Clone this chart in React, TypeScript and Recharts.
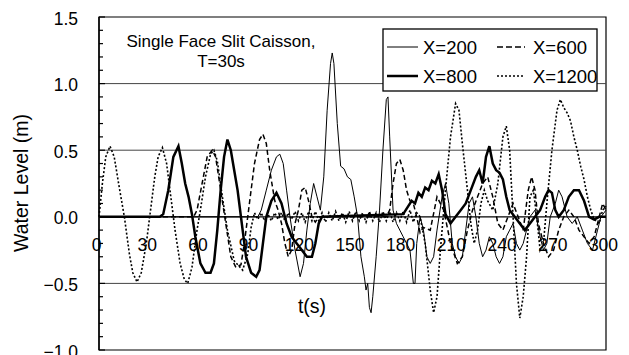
import React from 'react';
import { LineChart, Line, XAxis, YAxis, ReferenceLine, ReferenceArea } from 'recharts';

// ---- chart data (t in seconds, water level in metres) ----
const X_TICKS = [0, 30, 60, 90, 120, 150, 180, 210, 240, 270, 300];
const Y_TICKS = [
  -1.0, -0.9, -0.8, -0.7, -0.6, -0.5, -0.4, -0.3, -0.2, -0.1, 0.0,
  0.1, 0.2, 0.3, 0.4, 0.5, 0.6, 0.7, 0.8, 0.9, 1.0, 1.1, 1.2, 1.3, 1.4, 1.5,
];
const GRID_LEVELS = [1.0, 0.5, -0.5];

const x200: [number, number][] = [
  [0, 0], [94, 0], [96, 0.05], [99, 0.2], [102, 0.35], [105, 0.45], [107, 0.47], [109, 0.4],
  [111, 0.2], [113, 0.0], [116, -0.25], [119, -0.45], [121, -0.35], [123, -0.1], [125, 0.1],
  [127, 0.25], [129, 0.15], [131, 0.05], [133, 0.3], [135, 0.8], [137, 1.15], [138, 1.23],
  [139, 1.15], [141, 0.7], [143, 0.38], [145, 0.36], [147, 0.3], [149, 0.28], [151, 0.15],
  [153, 0.0], [155, -0.3], [157, -0.45], [158, -0.55], [159, -0.5], [160, -0.68], [161, -0.72],
  [162, -0.6], [164, -0.3], [166, 0.05], [168, 0.5], [170, 0.88], [171, 0.9], [172, 0.6],
  [174, 0.05], [176, -0.05], [178, -0.1], [180, -0.15], [182, -0.2], [184, -0.25], [186, -0.5],
  [187, -0.5], [188, -0.2], [190, 0.0], [192, -0.1], [194, -0.3], [196, -0.35], [198, -0.3],
  [200, -0.1], [203, 0.15], [205, 0.25], [207, 0.1], [209, -0.2], [211, -0.3], [213, -0.35],
  [215, -0.3], [217, -0.1], [219, 0.1], [221, 0.15], [223, 0.0], [225, -0.2], [227, -0.3],
  [229, -0.25], [231, -0.15], [233, -0.2], [235, -0.3], [237, -0.35], [239, -0.3], [241, -0.15],
  [243, -0.1], [245, -0.05], [247, -0.2], [249, -0.25], [251, -0.2], [253, -0.1], [255, 0.0],
  [258, 0.05], [261, -0.15], [263, -0.25], [265, -0.2], [267, 0.0], [270, 0.1], [272, 0.2],
  [274, 0.15], [277, 0.0], [280, -0.05], [283, 0.0], [286, -0.1], [289, -0.2], [292, -0.25],
  [295, -0.1], [297, 0.0], [300, 0.05],
];

const x600: [number, number][] = [
  [0, 0], [56, 0], [58, 0.05], [61, 0.25], [64, 0.45], [67, 0.5], [69, 0.45], [72, 0.2],
  [75, -0.05], [78, -0.3], [81, -0.38], [84, -0.36], [86, -0.2], [89, 0.1], [92, 0.4],
  [95, 0.58], [97, 0.62], [99, 0.55], [101, 0.35], [104, 0.12], [106, 0.05], [108, -0.05],
  [110, -0.2], [112, -0.3], [114, -0.25], [116, -0.05], [118, 0.05], [120, 0.2], [122, 0.22],
  [124, 0.12], [126, 0.0], [128, -0.04], [130, 0.0], [170, 0.0], [172, 0.05], [174, 0.25],
  [176, 0.4], [178, 0.43], [180, 0.35], [182, 0.2], [184, 0.12], [186, 0.1], [188, 0.0],
  [190, -0.12], [192, -0.08], [196, -0.1], [200, 0.15], [204, 0.05], [208, -0.2], [212, -0.35],
  [215, -0.3], [218, -0.1], [221, 0.05], [224, 0.15], [227, 0.25], [230, 0.3], [233, 0.15],
  [236, -0.05], [239, -0.1], [242, 0.0], [245, 0.1], [248, 0.0], [251, -0.1], [254, 0.2],
  [256, 0.3], [258, 0.2], [260, -0.05], [263, -0.2], [266, -0.3], [269, -0.25], [272, -0.1],
  [275, 0.0], [278, 0.05], [281, 0.0], [284, -0.1], [287, -0.15], [290, -0.2], [293, -0.15],
  [296, 0.0], [298, 0.1], [300, 0.05],
];

const x800: [number, number][] = [
  [0, 0], [36, 0], [38, 0.02], [41, 0.2], [44, 0.45], [47, 0.53], [49, 0.4], [51, 0.25],
  [53, 0.15], [55, 0.02], [57, -0.15], [60, -0.35], [63, -0.42], [66, -0.42], [68, -0.35],
  [70, -0.1], [72, 0.2], [74, 0.45], [76, 0.58], [78, 0.5], [80, 0.35], [82, 0.2], [84, 0.0],
  [87, -0.3], [90, -0.42], [93, -0.45], [95, -0.4], [97, -0.2], [99, 0.0], [102, 0.12],
  [105, 0.18], [108, 0.1], [111, -0.05], [114, -0.15], [117, -0.2], [120, -0.25], [123, -0.3],
  [126, -0.3], [128, -0.2], [130, -0.05], [132, 0.0], [180, 0.02], [183, 0.08], [185, 0.12],
  [187, 0.1], [189, 0.18], [191, 0.15], [193, 0.22], [195, 0.2], [197, 0.27], [199, 0.25],
  [201, 0.32], [203, 0.2], [205, 0.02], [208, -0.05], [211, 0.0], [214, 0.05], [217, 0.1],
  [220, 0.2], [223, 0.3], [225, 0.35], [227, 0.25], [229, 0.45], [231, 0.53], [233, 0.4],
  [235, 0.35], [237, 0.33], [239, 0.28], [241, 0.15], [243, 0.05], [246, 0.0], [249, -0.05],
  [252, -0.1], [255, -0.05], [258, 0.0], [261, 0.05], [264, 0.15], [266, 0.2], [268, 0.18],
  [270, 0.05], [272, 0.0], [275, 0.05], [278, 0.15], [281, 0.2], [284, 0.2], [287, 0.12],
  [290, 0.0], [293, -0.02], [296, 0.0], [300, 0.0],
];

const x1200: [number, number][] = [
  [0, 0], [2, 0.25], [4, 0.45], [6.5, 0.53], [9, 0.45], [12, 0.22], [15, 0], [18, -0.28],
  [20, -0.42], [22.5, -0.49], [25, -0.42], [28, -0.2], [30, 0], [33, 0.3], [35, 0.45],
  [37.5, 0.52], [40, 0.4], [43, 0.1], [45, -0.1], [48, -0.35], [50.5, -0.47], [52.5, -0.5],
  [55, -0.38], [58, -0.1], [60, 0.05], [63, 0.3], [66, 0.47], [68, 0.5], [70, 0.42],
  [73, 0.15], [76, -0.1], [80, -0.33], [85, -0.4], [88, -0.28], [90, -0.08],
  // small residual ripple before the reflected wave arrives
  [92, 0.03], [94, -0.02], [96, 0.03], [98, -0.03], [100, 0.02], [102, -0.03], [104, 0.03],
  [106, -0.02], [108, 0.03], [110, -0.03], [112, 0.03], [114, -0.02], [116, 0.04], [118, -0.03],
  [120, 0.03], [122, -0.04], [124, 0.04], [126, -0.03], [128, 0.04], [130, -0.03], [132, 0.03],
  [134, -0.04], [136, 0.03], [138, -0.03], [140, 0.04], [142, -0.03], [144, 0.03], [146, -0.04],
  [148, 0.04], [150, -0.03], [152, 0.04], [154, -0.03], [156, 0.03], [158, -0.04], [160, 0.04],
  [162, -0.03], [164, 0.03], [166, -0.04], [168, 0.04], [170, -0.03], [172, 0.04], [174, -0.04],
  [176, 0.03], [178, -0.03], [180, 0.04], [182, -0.04], [184, 0.05], [186, -0.04], [188, 0.03],
  [190, 0.0], [193, -0.2], [196, -0.55], [198, -0.72], [200, -0.6], [202, -0.25], [205, 0.2],
  [208, 0.6], [211, 0.85], [213, 0.8], [215, 0.55], [218, 0.2], [220, -0.05], [222, -0.2],
  [224, -0.1], [226, 0.1], [228, 0.2], [230, 0.12], [233, 0.05], [236, 0.25], [239, 0.6],
  [241, 0.68], [243, 0.5], [245, 0.0], [247, -0.5], [249, -0.76], [251, -0.6], [253, -0.3],
  [255, 0.15], [257, 0.2], [259, 0.0], [261, -0.25], [263, -0.2], [265, 0.1], [268, 0.5],
  [271, 0.8], [273, 0.88], [275, 0.82], [277, 0.78], [279, 0.72], [281, 0.6], [283, 0.5],
  [285, 0.38], [287, 0.28], [289, 0.15], [291, 0.05], [293, -0.02], [296, -0.05], [298, 0.05],
  [300, 0.08],
];

// ---- series styling ----
type Series = { name: string; points: [number, number][]; width: number; dash?: string; legendDash?: string };
const SERIES: Series[] = [
  { name: 'X=200', points: x200, width: 1 },
  { name: 'X=600', points: x600, width: 1.5, dash: '5 3', legendDash: '6 3' },
  { name: 'X=800', points: x800, width: 2.5 },
  { name: 'X=1200', points: x1200, width: 1.6, dash: '2 2', legendDash: '2 2' },
];

// ---- layout ----
const W = 629;
const H = 355;
const MARGIN = { top: 17, right: 23, bottom: 4, left: 0 };
const X_AXIS_H = 1;
const Y_AXIS_W = 99;
const Y_MIN = -1;
const Y_MAX = 1.5;
const PLOT_TOP = MARGIN.top;
const PLOT_BOTTOM = H - MARGIN.bottom - X_AXIS_H;
const ZERO_Y = PLOT_TOP + ((PLOT_BOTTOM - PLOT_TOP) * (Y_MAX - 0)) / (Y_MAX - Y_MIN);
const FONT = '"Liberation Sans", Arial, sans-serif';

const fmtY = (v: number) => {
  const s = Math.abs(v).toFixed(1);
  return v < -1e-9 ? `\u2212${s}` : s;
};

const YTick = (props: any) => {
  const { x, y, payload } = props;
  const v = payload.value as number;
  const major = Math.abs(v * 2 - Math.round(v * 2)) < 1e-6;
  return (
    <g>
      <line x1={x} x2={x + (major ? 6 : 4)} y1={y} y2={y} stroke="#000" strokeWidth={1.2} />
      {major && (
        <text x={x - 21} y={y + 7.5} textAnchor="end" fontSize={17.5} fontFamily={FONT} fill="#000">
          {fmtY(v)}
        </text>
      )}
    </g>
  );
};

// x tick labels sit just under the zero line
const XTick = (props: any) => {
  const { x, payload } = props;
  return (
    <text x={x - 2.5} y={ZERO_Y + 34} textAnchor="middle" fontSize={17.5} fontFamily={FONT} fill="#000">
      {payload.value}
    </text>
  );
};

const LegendBox = () => {
  const box = { x: 383, y: 29, w: 214, h: 62 };
  const cols = [4, 114];
  const rows = [18, 47];
  return (
    <g>
      <rect x={box.x} y={box.y} width={box.w} height={box.h} fill="#fff" stroke="#000" strokeWidth={1.3} />
      {SERIES.map((s, i) => {
        const cx = box.x + cols[i % 2];
        const cy = box.y + rows[Math.floor(i / 2)];
        return (
          <g key={s.name}>
            <line
              x1={cx}
              x2={cx + (i % 2 ? 28 : 31)}
              y1={cy}
              y2={cy}
              stroke="#000"
              strokeWidth={s.width}
              strokeDasharray={s.legendDash}
            />
            <text x={cx + 36} y={cy + 7} fontSize={18.5} fontFamily={FONT} fill="#000">
              {s.name}
            </text>
          </g>
        );
      })}
    </g>
  );
};

export default function App() {
  return (
    <div style={{ position: 'absolute', left: 0, top: 0, width: W, height: H, background: '#fff' }}>
      <LineChart width={W} height={H} margin={MARGIN}>
        <XAxis
          type="number"
          dataKey="t"
          domain={[0, 300]}
          ticks={X_TICKS}
          interval={0}
          height={X_AXIS_H}
          axisLine={false}
          tickLine={false}
          tick={XTick}
        />
        <YAxis
          type="number"
          domain={[Y_MIN, Y_MAX]}
          ticks={Y_TICKS}
          interval={0}
          width={Y_AXIS_W}
          tickSize={0}
          tickMargin={0}
          tickLine={false}
          axisLine={{ stroke: '#000', strokeWidth: 1.4 }}
          tick={YTick}
        />
        <ReferenceArea x1={0} x2={300} y1={Y_MIN} y2={Y_MAX} fill="none" fillOpacity={0} stroke="#000" strokeWidth={1.2} />
        {GRID_LEVELS.map((g) => (
          <ReferenceLine key={g} y={g} stroke="#444" strokeWidth={1} />
        ))}
        <ReferenceLine y={0} stroke="#000" strokeWidth={1.2} />
        {SERIES.map((s) => (
          <Line
            key={s.name}
            name={s.name}
            data={s.points.map(([t, v]) => ({ t, v }))}
            dataKey="v"
            type="linear"
            stroke="#000"
            strokeWidth={s.width}
            strokeDasharray={s.dash}
            dot={false}
            activeDot={false}
            isAnimationActive={false}
          />
        ))}
      </LineChart>
      <svg width={W} height={H} style={{ position: 'absolute', left: 0, top: 0, pointerEvents: 'none' }}>
        <text x={221} y={47} textAnchor="middle" fontSize={17} fontFamily={FONT} fill="#000">
          Single Face Slit Caisson,
        </text>
        <text x={221} y={67} textAnchor="middle" fontSize={17} fontFamily={FONT} fill="#000">
          T=30s
        </text>
        <text x={312} y={313} textAnchor="middle" fontSize={19.5} fontFamily={FONT} fill="#000">
          t(s)
        </text>
        <text
          x={28}
          y={183}
          textAnchor="middle"
          fontSize={19.5}
          fontFamily={FONT}
          fill="#000"
          transform="rotate(-90 28 183)"
        >
          Water Level (m)
        </text>
        <LegendBox />
      </svg>
    </div>
  );
}
